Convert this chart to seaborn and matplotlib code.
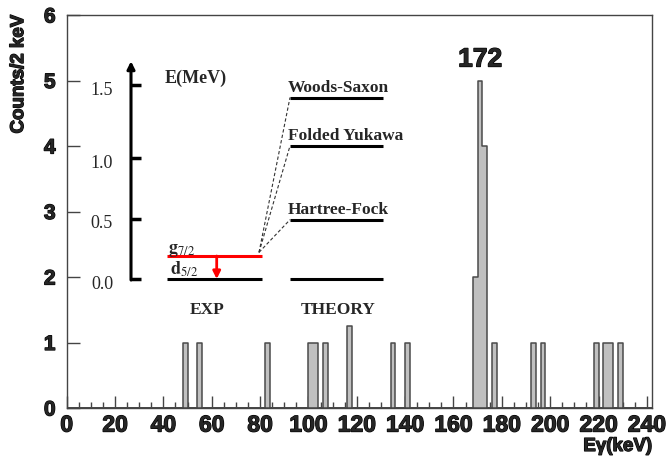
import numpy as np
import pandas as pd
import seaborn as sns
import matplotlib.pyplot as plt
import matplotlib.patheffects as pe
from matplotlib.ticker import MultipleLocator

# ---------------- data ----------------
bin_left = [48, 54, 82, 100, 102, 106, 116, 134, 140, 168, 170, 172, 176,
            192, 196, 218, 222, 224, 228]
counts = [1, 1, 1, 1, 1, 1, 1.25, 1, 1, 2, 5, 4, 1, 1, 1, 1, 1, 1, 1]
bin_width = 2
x_ticks = list(range(0, 241, 20))
y_ticks = [0, 1, 2, 3, 4, 5, 6]
peak_label = "172"
peak_pos = (171, 5.32)

# level scheme (MeV)
e_tick_pos = [0.0, 0.5, 1.0, 1.6]
e_tick_lab = ["0.0", "0.5", "1.0", "1.5"]
exp_levels = {"d": 0.0, "g": 0.19}
theory_names = ["Woods-Saxon", "Folded Yukawa", "Hartree-Fock"]
theory_energy = [1.50, 1.10, 0.49]

# ---------------- figure ----------------
sns.set_style("ticks")
plt.rcParams["font.family"] = ["Liberation Sans", "DejaVu Sans"]
plt.rcParams["mathtext.fontset"] = "stix"

heavy = [pe.withStroke(linewidth=0.9, foreground="black")]

fig = plt.figure(figsize=(6.69, 4.60), dpi=100)
ax = fig.add_axes([66.7 / 669, 51 / 460, 585 / 669, 393 / 460])

df = pd.DataFrame({"energy": np.array(bin_left) + bin_width / 2, "counts": counts})
sns.histplot(data=df, x="energy", weights="counts",
             binwidth=bin_width, binrange=(0, 242), element="step", fill=True,
             color="#c0c0c0", edgecolor="#4a4a4a", alpha=1, linewidth=1.1, ax=ax)

ax.set_xlim(0, 242)
ax.set_ylim(0, 6)
ax.set_xticks(x_ticks)
ax.set_yticks(y_ticks)
ax.xaxis.set_minor_locator(MultipleLocator(5))
ax.tick_params(axis="x", which="major", direction="in", length=8.6, width=1,
               color="#444444", pad=4, labelsize=16.5)
ax.tick_params(axis="x", which="minor", direction="in", length=4.3, width=1,
               color="#444444")
ax.tick_params(axis="y", which="major", direction="in", length=9.5, width=1,
               color="#444444", pad=8, labelsize=15)
for lab in ax.get_xticklabels() + ax.get_yticklabels():
    lab.set_fontweight("bold")
    lab.set_path_effects(heavy)
for s in ax.spines.values():
    s.set_color("#444444")
    s.set_linewidth(1)

ax.set_xlabel("E\u03b3(keV)", fontsize=13.5, fontweight="bold", loc="right",
              labelpad=1, path_effects=heavy)
ax.set_ylabel("Counts/2 keV", fontsize=13.5, fontweight="bold", loc="top",
              labelpad=12, path_effects=heavy)

ax.text(peak_pos[0], peak_pos[1], peak_label, fontsize=19, fontweight="bold",
        ha="center", va="center", path_effects=heavy)

# ---------------- level scheme inset ----------------
sch = fig.add_axes([100 / 669, 140 / 460, 320 / 669, 265 / 460])
sch.set_xlim(0, 320)
sch.set_ylim(-40 / 121, 225 / 121)
sch.axis("off")
sch.patch.set_alpha(0)

serif = ["Liberation Serif", "DejaVu Serif"]
ax_x = 31.0
sch.annotate("", xy=(ax_x, 1.80), xytext=(ax_x, -0.008),
             arrowprops=dict(arrowstyle="-|>", lw=2.2, color="black",
                             mutation_scale=11, shrinkA=0, shrinkB=0))
sch.hlines(e_tick_pos, ax_x - 1, ax_x + 10, color="black", lw=2.5)
for p, l in zip(e_tick_pos, e_tick_lab):
    sch.text(13, p - 0.035, l, family=serif, fontsize=13, ha="right", va="center")
sch.text(65, 1.667, "E(MeV)", family=serif, fontsize=13, fontweight="bold",
         ha="left", va="center")

# experimental levels
sch.hlines(exp_levels["d"], 66.7, 161.7, color="black", lw=2.2)
sch.hlines(exp_levels["g"], 66.7, 161.7, color="red", lw=2.2)
sch.annotate("", xy=(116.7, exp_levels["d"]), xytext=(116.7, exp_levels["g"]),
             arrowprops=dict(arrowstyle="-|>", lw=2, color="red",
                             mutation_scale=11, shrinkA=0, shrinkB=0))
sch.text(68, exp_levels["g"] + 0.055, r"$\mathbf{g}_{7/2}$", fontsize=13,
         ha="left", va="center")
sch.text(70, exp_levels["d"] + 0.085, r"$\mathbf{d}_{5/2}$", fontsize=13,
         ha="left", va="center")

# theory levels
sch.hlines(0.0, 190, 283, color="black", lw=2.2)
for name, e in zip(theory_names, theory_energy):
    sch.hlines(e, 190, 283, color="black", lw=2.2)
    sch.text(188, e + 0.02, name, family=serif, fontsize=12.5, fontweight="bold",
             ha="left", va="bottom")
    sch.plot([159, 190], [exp_levels["g"] + 0.03, e], color="#333333", lw=0.8,
             dashes=(3, 2))

sch.text(107.5, -0.248, "EXP", family=serif, fontsize=12.5, fontweight="bold",
         ha="center", va="center")
sch.text(238, -0.248, "THEORY", family=serif, fontsize=12.5, fontweight="bold",
         ha="center", va="center")

fig.savefig("out.png", dpi=100)
